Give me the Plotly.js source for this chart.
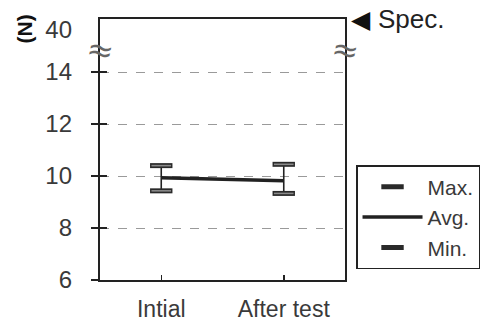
<!DOCTYPE html>
<html>
<head>
<meta charset="utf-8">
<script src="https://cdn.plot.ly/plotly-3.0.1.min.js"></script>
<style>html,body{margin:0;padding:0;background:#fff;}#chart{width:492px;height:326px;}</style>
</head>
<body>
<div id="chart"></div>
<script>
// ---- data ----
const categories = ['Intial', 'After test'];
const maxVals = [10.40, 10.45];
const avgVals = [9.93, 9.82];
const minVals = [9.43, 9.33];
const yTickVals = [6, 8, 10, 12, 14];
const yTickText = ['6', '8', '10', '12', '14'];
const breakTickVal = 15.65;        // position where the broken axis shows "40"
const breakTickText = '40';
const breakMarkY = 14.85;          // wavy break symbol position

const FONT = '"Liberation Sans", Arial, sans-serif';
const TXT = '#3a3a3a';
const DARK = '#222';

const errPlus = maxVals.map((v, i) => v - avgVals[i]);
const errMinus = avgVals.map((v, i) => v - minVals[i]);

const traces = [
  { // vertical whiskers
    x: categories, y: avgVals, type: 'scatter', mode: 'lines', showlegend: false, hoverinfo: 'skip',
    line: {color: 'rgba(0,0,0,0)', width: 0},
    error_y: {type: 'data', array: errPlus, arrayminus: errMinus, symmetric: false,
              color: DARK, thickness: 1.6, width: 0}
  },
  { // max caps (legend)
    x: categories, y: maxVals, type: 'scatter', mode: 'markers', name: 'Max.',
    marker: {symbol: 'line-ew', size: 16, line: {width: 5, color: '#2a2a2a'}}
  },
  { x: categories, y: maxVals, type: 'scatter', mode: 'markers', showlegend: false, hoverinfo: 'skip',
    marker: {symbol: 'line-ew', size: 14, line: {width: 1.6, color: '#8a8a8a'}} },
  { // average
    x: categories, y: avgVals, type: 'scatter', mode: 'lines', name: 'Avg.',
    line: {color: DARK, width: 3.5}
  },
  { // min caps (legend)
    x: categories, y: minVals, type: 'scatter', mode: 'markers', name: 'Min.',
    marker: {symbol: 'line-ew', size: 16, line: {width: 5, color: '#2a2a2a'}}
  },
  { x: categories, y: minVals, type: 'scatter', mode: 'markers', showlegend: false, hoverinfo: 'skip',
    marker: {symbol: 'line-ew', size: 14, line: {width: 1.6, color: '#8a8a8a'}} },
  // extra axes: tick labels (incl. "40") and crossing inner ticks
  { x: categories, y: avgVals, yaxis: 'y2', type: 'scatter', mode: 'lines', showlegend: false,
    hoverinfo: 'skip', line: {width: 0, color: 'rgba(0,0,0,0)'} },
  { x: categories, y: avgVals, yaxis: 'y3', type: 'scatter', mode: 'lines', showlegend: false,
    hoverinfo: 'skip', line: {width: 0, color: 'rgba(0,0,0,0)'} }
];

const yRange = [6, 16.04];

const layout = {
  width: 492, height: 326,
  margin: {l: 100, r: 145, t: 19, b: 46},
  paper_bgcolor: '#fff', plot_bgcolor: '#fff',
  font: {family: FONT, color: TXT, size: 24},
  showlegend: true,
  legend: {
    x: 1.045, xanchor: 'left', y: 0.44, yanchor: 'top',
    bordercolor: DARK, borderwidth: 1.5, bgcolor: '#fff',
    font: {family: FONT, size: 21, color: TXT},
    itemwidth: 60, traceorder: 'normal'
  },
  xaxis: {
    type: 'category', range: [-0.5, 1.5],
    showline: true, linecolor: DARK, linewidth: 2, mirror: true,
    ticks: 'inside', ticklen: 5, tickwidth: 1.5, tickcolor: DARK,
    showgrid: false, zeroline: false, ticklabelstandoff: 7,
    tickfont: {family: FONT, size: 23, color: TXT}
  },
  yaxis: {
    range: yRange, tickvals: yTickVals, showticklabels: false,
    showline: true, linecolor: DARK, linewidth: 2, mirror: true,
    ticks: 'outside', ticklen: 7, tickwidth: 1.5, tickcolor: DARK,
    showgrid: true, gridcolor: '#9a9a9a', gridwidth: 1, griddash: 'dash',
    zeroline: false
  },
  yaxis2: {
    overlaying: 'y', side: 'left', range: yRange,
    tickvals: yTickVals.concat([breakTickVal]), ticktext: yTickText.concat([breakTickText]),
    showline: false, ticks: '', showgrid: false, zeroline: false,
    ticklabelstandoff: 27,
    tickfont: {family: FONT, size: 24, color: TXT}
  },
  yaxis3: {
    overlaying: 'y', side: 'left', range: yRange,
    tickvals: yTickVals, showticklabels: false,
    showline: false, ticks: 'inside', ticklen: 7, tickwidth: 1.5, tickcolor: DARK,
    showgrid: false, zeroline: false
  },
  annotations: [
    {xref: 'paper', yref: 'paper', x: -0.308, y: 0.962, xanchor: 'center', yanchor: 'middle',
     text: '(N)', textangle: -90,
     showarrow: false, font: {family: FONT, size: 21, color: '#111', weight: 'bold'}},
    {xref: 'paper', yref: 'y', x: 0, y: breakMarkY, xanchor: 'center', yanchor: 'middle',
     text: '≈', textangle: 12, showarrow: false, font: {family: 'DejaVu Sans', size: 32, color: '#666'}},
    {xref: 'paper', yref: 'y', x: 1, y: breakMarkY, xanchor: 'center', yanchor: 'middle',
     text: '≈', textangle: 12, showarrow: false, font: {family: 'DejaVu Sans', size: 32, color: '#666'}},
    {xref: 'paper', yref: 'paper', x: 1.018, y: 1.0, xanchor: 'left', yanchor: 'middle',
     text: '◀', showarrow: false, font: {family: 'DejaVu Sans', size: 25, color: '#111'}},
    {xref: 'paper', yref: 'paper', x: 1.126, y: 1.0, xanchor: 'left', yanchor: 'middle',
     text: 'Spec.', showarrow: false, font: {family: FONT, size: 26, color: '#222'}}
  ]
};

Plotly.newPlot('chart', traces, layout, {displayModeBar: false, staticPlot: true});
</script>
</body>
</html>
